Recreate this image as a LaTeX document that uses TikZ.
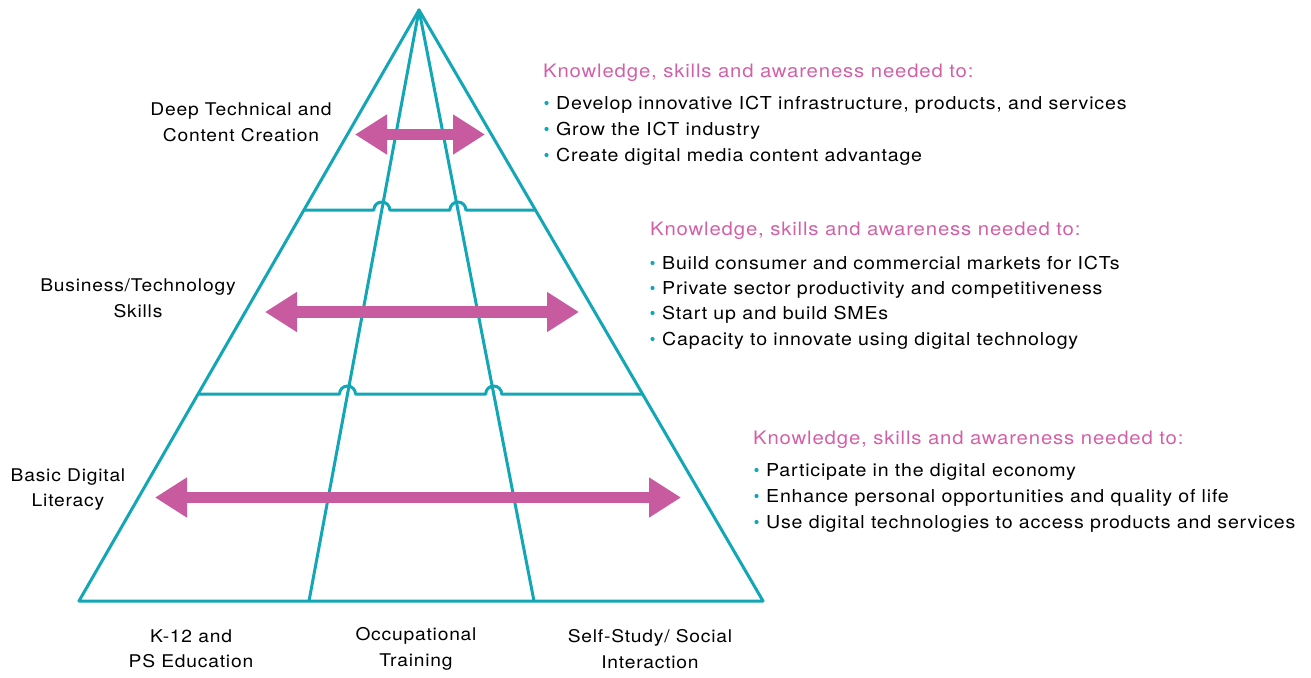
\documentclass[tikz,border=0pt]{standalone}
\usepackage{fontspec}
\setmainfont{TeX Gyre Heros}
\newfontfamily\spacedfont[FakeStretch=1.1,LetterSpace=4.5]{TeX Gyre Heros}
\usetikzlibrary{arrows.meta}
\definecolor{teal}{HTML}{12A6B6}
\definecolor{pinkarrow}{HTML}{C85BA0}
\definecolor{pinktext}{HTML}{D260A8}
\tikzset{
  edge/.style={draw=teal, line width=3pt, line join=round, line cap=round},
  dblarrow/.style={pinkarrow, line width=11.5pt,
     {Triangle[length=32pt,width=38pt]}-{Triangle[length=32pt,width=38pt]}},
  lbl/.style={align=center, font=\spacedfont\fontsize{17.5}{25.5}\selectfont, inner sep=0pt},
  head/.style={anchor=base west, inner sep=0pt, text=pinktext, font=\spacedfont\fontsize{18.5}{22}\selectfont},
  item/.style={anchor=base west, inner sep=0pt, font=\spacedfont\fontsize{17.8}{22}\selectfont},
}
\newcommand{\bul}[1]{\fill[teal] ([xshift=-9.5pt,yshift=6.5pt]#1.base west) circle (2.1pt);}
\begin{document}
\begin{tikzpicture}[x=1pt,y=1pt]
\useasboundingbox (0,0) rectangle (1311,-677);
% pyramid
\coordinate (apex) at (419,-10);
\coordinate (bl) at (79,-601);
\coordinate (br) at (763,-601);
\coordinate (b1) at (309,-601);
\coordinate (b2) at (534,-601);
\draw[edge] (apex) -- (bl) -- (br) -- cycle;
\draw[edge] (apex) -- (b1);
\draw[edge] (apex) -- (b2);
% upper horizontal with hops
\coordinate (h1l) at (304,-210);
\coordinate (h1r) at (535,-210);
\draw[edge] (h1l) -- (373.8,-210) arc[start angle=180,end angle=0,radius=8] -- (449.9,-210) arc[start angle=180,end angle=0,radius=8] -- (h1r);
% lower horizontal with hops
\coordinate (h2l) at (198,-394);
\coordinate (h2r) at (642,-394);
\draw[edge] (h2l) -- (339.5,-394) arc[start angle=180,end angle=0,radius=8] -- (485.7,-394) arc[start angle=180,end angle=0,radius=8] -- (h2r);
% arrows
\coordinate (a1l) at (355,-134.5);
\coordinate (a1r) at (485,-134.5);
\coordinate (a2l) at (265,-312);
\coordinate (a2r) at (579,-312);
\coordinate (a3l) at (155,-497.5);
\coordinate (a3r) at (681,-497.5);
\draw[dblarrow] (a1l) -- (a1r);
\draw[dblarrow] (a2l) -- (a2r);
\draw[dblarrow] (a3l) -- (a3r);
% left labels
\node[lbl] (l1) at (241,-122.5) {Deep Technical and\\Content Creation};
\node[lbl] (l2) at (138,-298.5) {Business/Technology\\Skills};
\node[lbl] (l3) at (68,-489.5) {Basic Digital\\Literacy};
% bottom labels
\node[lbl] (c1) at (191,-649) {K-12 and\\PS Education};
\node[lbl] (c2) at (416,-649) {Occupational\\Training};
\node[lbl] (c3) at (650,-649) {Self-Study/ Social\\Interaction};
% right text block 1
\node[head] (k1) at (543,-77.5) {Knowledge, skills and awareness needed to:};
\node[item] (t11) at (556,-109.5) {Develop innovative ICT infrastructure, products, and services};
\node[item] (t12) at (556,-135.5) {Grow the ICT industry};
\node[item] (t13) at (556,-161.5) {Create digital media content advantage};
\bul{t11}\bul{t12}\bul{t13}
% block 2
\node[head] (k2) at (650,-235.5) {Knowledge, skills and awareness needed to:};
\node[item] (t21) at (662,-269.5) {Build consumer and commercial markets for ICTs};
\node[item] (t22) at (662,-294.5) {Private sector productivity and competitiveness};
\node[item] (t23) at (662,-319.5) {Start up and build SMEs};
\node[item] (t24) at (662,-345.5) {Capacity to innovate using digital technology};
\bul{t21}\bul{t22}\bul{t23}\bul{t24}
% block 3
\node[head] (k3) at (753,-444.5) {Knowledge, skills and awareness needed to:};
\node[item] (t31) at (766,-476.5) {Participate in the digital economy};
\node[item] (t32) at (766,-502.5) {Enhance personal opportunities and quality of life};
\node[item] (t33) at (766,-528.5) {Use digital technologies to access products and services};
\bul{t31}\bul{t32}\bul{t33}
\end{tikzpicture}
\end{document}
